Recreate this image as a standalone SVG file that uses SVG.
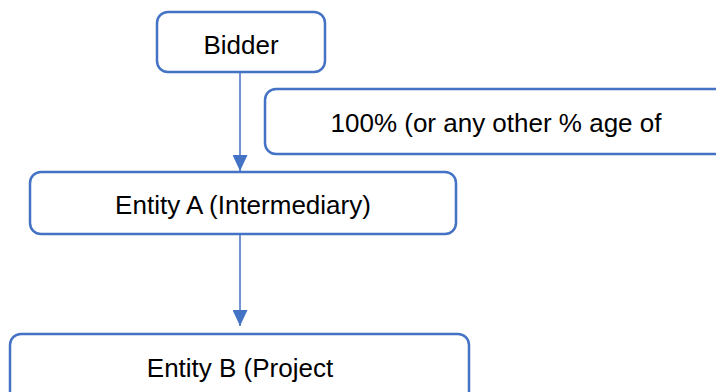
<svg xmlns="http://www.w3.org/2000/svg" width="716" height="392" viewBox="0 0 716 392">
<style>
.box{fill:#fff;stroke:#4472C4;stroke-width:2.5}
.t{font-family:"Liberation Sans",Arial,sans-serif;font-size:26px;fill:#000;text-anchor:middle}
.c{stroke:#4472C4;stroke-width:1.5;fill:none}
</style>
<defs>
<marker id="ah" markerWidth="16" markerHeight="15" refX="16" refY="7.5" orient="auto" markerUnits="userSpaceOnUse" viewBox="0 0 16 15">
<path d="M0,0 L16,7.5 L0,15 Z" fill="#4472C4"/>
</marker>
</defs>
<rect width="716" height="392" fill="#fff"/>
<g id="connectors">
<line class="c" x1="240" y1="72" x2="240" y2="171" marker-end="url(#ah)"/>
<line class="c" x1="240" y1="234" x2="240" y2="326" marker-end="url(#ah)"/>
</g>
<g id="bidder">
<rect class="box" x="157" y="12" width="168" height="60" rx="11"/>
<text class="t" x="241" y="54">Bidder</text>
</g>
<g id="note">
<rect class="box" x="265" y="89" width="480" height="65" rx="11"/>
<text class="t" x="496" y="132">100% (or any other % age of</text>
</g>
<g id="entityA">
<rect class="box" x="30" y="172" width="426" height="62" rx="11"/>
<text class="t" x="243" y="214">Entity A (Intermediary)</text>
</g>
<g id="entityB">
<rect class="box" x="10" y="334" width="459" height="80" rx="11"/>
<text class="t" x="240" y="377">Entity B (Project</text>
</g>
</svg>
